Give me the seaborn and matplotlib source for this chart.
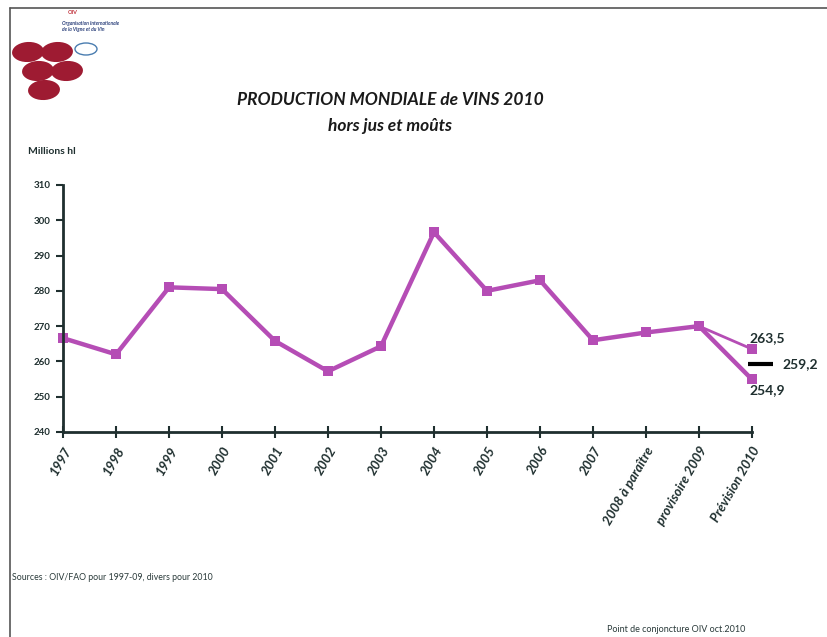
import matplotlib
matplotlib.use("Agg")
import matplotlib.pyplot as plt
from matplotlib.patches import Ellipse
from matplotlib.lines import Line2D
import seaborn as sns
import pandas as pd

categories = ["1997", "1998", "1999", "2000", "2001", "2002", "2003", "2004",
              "2005", "2006", "2007", "2008 à paraître", "provisoire 2009", "Prévision 2010"]
production = [266.6, 262.0, 281.0, 280.5, 265.8, 257.2, 264.3, 296.6,
              280.0, 283.0, 266.0, 268.2, 270.0, 254.9]
high_branch_cats = ["provisoire 2009", "Prévision 2010"]
high_branch_vals = [270.0, 263.5]
mid_estimate = 259.2
yticks = [240, 250, 260, 270, 280, 290, 300, 310]

sns.set_theme(style="white")
plt.rcParams['font.family'] = ['Lato', 'DejaVu Sans']

fig = plt.figure(figsize=(8.28, 6.37), dpi=100)
ax = fig.add_axes([63/828, 1 - 432/637, (752-63)/828, (432-185)/637])

pos = {c: i for i, c in enumerate(categories)}
df = pd.DataFrame({"x": [pos[c] for c in categories], "y": production})
df2 = pd.DataFrame({"x": [pos[c] for c in high_branch_cats], "y": high_branch_vals})

col = "#B54DB5"
sns.lineplot(data=df, x="x", y="y", ax=ax, color=col, linewidth=3.2,
             marker="s", markersize=7, markeredgewidth=0, clip_on=False)
sns.lineplot(data=df2, x="x", y="y", ax=ax, color=col, linewidth=2.0,
             marker="s", markersize=7, markeredgewidth=0, clip_on=False)

# black estimate dash
last = len(categories) - 1
ax.plot([last - 0.08, last + 0.4], [mid_estimate, mid_estimate], color="black",
        linewidth=3, clip_on=False, solid_capstyle="butt")
ax.text(last + 0.58, mid_estimate, f"{mid_estimate:.1f}".replace(".", ","),
        fontsize=10, fontweight="bold", color="#1f2f2f", va="center", ha="left")
ax.text(last - 0.05, high_branch_vals[-1] + 1.4, f"{high_branch_vals[-1]:.1f}".replace(".", ","),
        fontsize=10, fontweight="bold", color="#1f2f2f", va="bottom", ha="left")
ax.text(last - 0.05, production[-1] - 1.2, f"{production[-1]:.1f}".replace(".", ","),
        fontsize=10, fontweight="bold", color="#1f2f2f", va="top", ha="left")

ax.set_xlim(0, last)
ax.set_ylim(240, 310)
ax.set_yticks(yticks)
ax.set_yticklabels([str(v) for v in yticks], fontsize=7, fontweight="bold", color="#1f2f2f")
ax.set_xticks(range(len(categories)))
ax.set_xticklabels(categories, rotation=60, ha="right", rotation_mode="anchor",
                   fontsize=9.5, fontweight="bold", style="italic", color="#1f2f2f")
ax.set_xlabel("")
ax.set_ylabel("")
for s in ["top", "right"]:
    ax.spines[s].set_visible(False)
for s in ["left", "bottom"]:
    ax.spines[s].set_color("#1f2f2f")
    ax.spines[s].set_linewidth(2)
ax.tick_params(axis="x", bottom=True, direction="inout", length=8, width=1.5, color="#1f2f2f", pad=5)
ax.tick_params(axis="y", left=True, direction="out", length=5, width=1.5, color="#1f2f2f", pad=4)
ax.grid(False)

# titles
fig.text(390/828, 1 - 100/637, "PRODUCTION MONDIALE de VINS 2010", ha="center", va="center",
         fontsize=12.5, fontweight="bold", style="italic", color="#1a1a1a")
fig.text(390/828, 1 - 126/637, "hors jus et moûts", ha="center", va="center",
         fontsize=12.5, fontweight="bold", style="italic", color="#1a1a1a")
fig.text(28/828, 1 - 152/637, "Millions hl", ha="left", va="center",
         fontsize=7.5, fontweight="bold", color="#1f2f2f")

fig.text(12/828, 1 - 578/637, "Sources : OIV/FAO pour 1997-09, divers pour 2010",
         ha="left", va="center", fontsize=6.3, color="#2a3a3a")
fig.text(676/828, 1 - 630/637, "Point de conjoncture OIV oct.2010",
         ha="center", va="center", fontsize=6.5, color="#2a3a3a")

# frame lines
fig.add_artist(Line2D([10/828, 10/828], [0, 1 - 8/637], transform=fig.transFigure, color="#555555", lw=1.2))
fig.add_artist(Line2D([10/828, 1], [1 - 8/637, 1 - 8/637], transform=fig.transFigure, color="#555555", lw=1.2))

# logo
grape = "#9E1B32"
for cx, cy in [(28, 52), (57, 52), (38, 71), (67, 71), (44, 90)]:
    fig.add_artist(Ellipse((cx/828, 1 - cy/637), 32/828, 20/637, angle=8, transform=fig.transFigure,
                           facecolor=grape, edgecolor="none"))
fig.add_artist(Ellipse((86/828, 1 - 49/637), 22/828, 12/637, transform=fig.transFigure,
                       facecolor="none", edgecolor="#4a7db0", lw=1))
fig.text(68/828, 1 - 13/637, "OIV", fontsize=4, color="#c0303a", fontweight="bold", ha="left", va="center")
fig.text(62/828, 1 - 23/637, "Organisation Internationale", fontsize=3.5, color="#2a3f7a",
         style="italic", fontweight="bold", ha="left", va="center")
fig.text(62/828, 1 - 30/637, "de la Vigne et du Vin", fontsize=3.5, color="#2a3f7a",
         style="italic", fontweight="bold", ha="left", va="center")

fig.savefig("out.png", dpi=100, facecolor="white")
